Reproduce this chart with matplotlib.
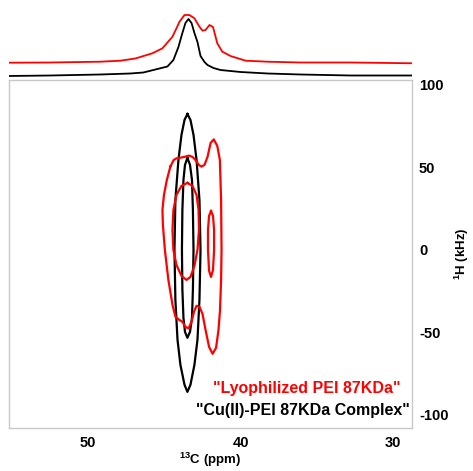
import matplotlib
matplotlib.use("Agg")
import matplotlib.pyplot as plt

plt.rcParams['font.family'] = ['Liberation Sans', 'DejaVu Sans']
plt.rcParams['font.weight'] = 'bold'
plt.rcParams['mathtext.fontset'] = 'custom'
plt.rcParams['mathtext.bf'] = 'Liberation Sans:bold'
plt.rcParams['mathtext.rm'] = 'Liberation Sans:bold'
plt.rcParams['axes.unicode_minus'] = False

################ data

# 1D projections (13C ppm, intensity in arbitrary units)
black_ppm = [55.26, 52.50, 49.21, 47.24, 46.38, 45.46, 44.80, 44.41, 44.08, 43.82, 43.62, 43.42,
             43.22, 43.03, 42.83, 42.63, 42.37, 42.17, 41.78, 41.32, 40.00, 38.22, 36.05, 32.76, 28.62]
black_int = [4.0, 4.5, 5.5, 6.5, 7.5, 11, 13.5, 20, 33, 47, 57, 61,
             57, 47, 38, 24, 18, 15, 12, 10, 8, 6.5, 5.5, 4.5, 4.5]

red_ppm = [55.26, 52.50, 49.21, 47.89, 46.91, 45.79, 45.13, 44.47, 44.21, 44.01, 43.68, 43.36, 43.03,
           42.70, 42.50, 42.30, 42.04, 41.81, 41.53, 41.20, 40.66, 39.67, 38.22, 36.05, 32.76, 28.62]
red_int = [17.3, 17.5, 18.3, 19.3, 21.5, 26.7, 31.7, 43.3, 51.7, 58.3, 65, 65, 61.7,
           53.3, 49.3, 50, 55, 53, 36.7, 28.3, 24, 19.3, 18.3, 17.5, 17.5, 16.7]

# contour lines, (13C ppm, 1H kHz)
cu_outer_ppm = [43.49, 43.29, 43.09, 42.89, 42.70, 42.63, 42.70, 42.83, 43.03, 43.29, 43.49,
                43.68, 43.95, 44.14, 44.28, 44.34, 44.28, 44.08, 43.88, 43.68, 43.49]
cu_outer_khz = [82.4, 78.8, 69.7, 54.5, 30.3, 0, -30.3, -54.5, -69.7, -81.8, -86.1,
                -81.8, -69.7, -54.5, -30.3, 0, 30.3, 54.5, 69.7, 78.8, 82.4]

cu_inner_ppm = [43.49, 43.32, 43.19, 43.13, 43.09, 43.13, 43.19, 43.32, 43.49,
                43.65, 43.75, 43.82, 43.85, 43.82, 43.75, 43.65, 43.49]
cu_inner_khz = [55.8, 51.5, 42.4, 24.2, 0, -24.2, -41.2, -49.7, -53.3,
                -49.7, -41.2, -24.2, 0, 24.2, 42.4, 51.5, 55.8]

lyo_outer_ppm = [44.61, 44.39, 44.21, 43.95, 43.68, 43.40, 43.16, 42.96, 42.74, 42.57, 42.37, 42.17,
                 41.97, 41.76, 41.53, 41.36, 41.28, 41.25, 41.28, 41.35, 41.45, 41.61, 41.84, 42.07,
                 42.30, 42.50, 42.70, 42.89, 43.06, 43.22, 43.42, 43.62, 43.82, 44.08, 44.28, 44.47,
                 44.74, 44.97, 45.10, 45.13, 45.03, 44.84, 44.61]
lyo_outer_khz = [50.5, 54.5, 55.5, 55.9, 56.4, 57.2, 56.4, 54.5, 51.5, 50.5, 51.5, 56.4,
                 64.8, 67.0, 63.0, 54.5, 30.3, 0, -18.2, -36.4, -48.5, -59.4, -63.0, -58.8,
                 -48.5, -38.8, -34.5, -33.9, -37.6, -43.6, -47.6, -46.7, -43.6, -42.1, -40.4, -33.3,
                 -18.2, 0, 15.2, 24.2, 33.3, 42.4, 50.5]

lyo_inner_ppm = [43.49, 43.16, 42.89, 42.76, 42.73, 42.83, 43.03, 43.29, 43.55,
                 43.88, 44.21, 44.41, 44.47, 44.41, 44.21, 43.88, 43.49]
lyo_inner_khz = [40.6, 38.8, 33.3, 24.2, 12.1, 0, -9.7, -16.4, -18.2,
                 -15.8, -9.1, 0, 12.1, 24.2, 33.3, 38.8, 40.6]

lyo_side_ppm = [41.94, 41.81, 41.74, 41.74, 41.81, 41.94, 42.07, 42.14, 42.14, 42.07, 41.94]
lyo_side_khz = [23.6, 20.6, 12.1, 0, -12.1, -16.4, -12.7, 0, 12.1, 20.6, 23.6]

xticks = [50, 40, 30]
yticks = [-100, -50, 0, 50, 100]

################

fig = plt.figure(figsize=(4.73, 4.71), dpi=100)

# main 2D panel
ax = fig.add_axes([9 / 473, 43 / 471, 403 / 473, 348 / 471])
ax.plot(cu_outer_ppm, cu_outer_khz, color='black', linewidth=1.6)
ax.plot(cu_inner_ppm, cu_inner_khz, color='black', linewidth=1.6)
ax.plot(lyo_outer_ppm, lyo_outer_khz, color='red', linewidth=1.6)
ax.plot(lyo_inner_ppm, lyo_inner_khz, color='red', linewidth=1.6)
ax.plot(lyo_side_ppm, lyo_side_khz, color='red', linewidth=1.6)

ax.set_xlim(55.2, 28.75)
ax.set_ylim(-108, 103)
ax.set_xticks(xticks)
ax.set_yticks(yticks)
ax.yaxis.tick_right()
ax.yaxis.set_label_position('right')
ax.tick_params(length=0, labelsize=10.5)
ax.tick_params(axis='x', pad=6)
ax.tick_params(axis='y', pad=5)
for s in ax.spines.values():
    s.set_color('#c8c8c8')
    s.set_linewidth(1)

ax.set_xlabel(r'$^{\mathbf{13}}$C (ppm)', fontsize=9.5, fontweight='bold', labelpad=0)
ax.set_ylabel(r'$^{\mathbf{1}}$H (kHz)', fontsize=9.5, fontweight='bold', labelpad=3)

ax.text(0.972, 0.10, '"Lyophilized PEI 87KDa"', color='red', fontsize=11.5,
        fontweight='bold', ha='right', va='baseline', transform=ax.transAxes)
ax.text(0.995, 0.037, '"Cu(II)-PEI 87KDa Complex"', color='black', fontsize=11.5,
        fontweight='bold', ha='right', va='baseline', transform=ax.transAxes)

# 1D projections on top
top = fig.add_axes([9 / 473, 391 / 471, 403 / 473, 80 / 471])
top.plot(red_ppm, red_int, color='red', linewidth=1.3)
top.plot(black_ppm, black_int, color='black', linewidth=1.3)
top.set_xlim(55.2, 28.75)
top.set_ylim(0, 80)
top.axis('off')

plt.savefig('out.png', dpi=100)
